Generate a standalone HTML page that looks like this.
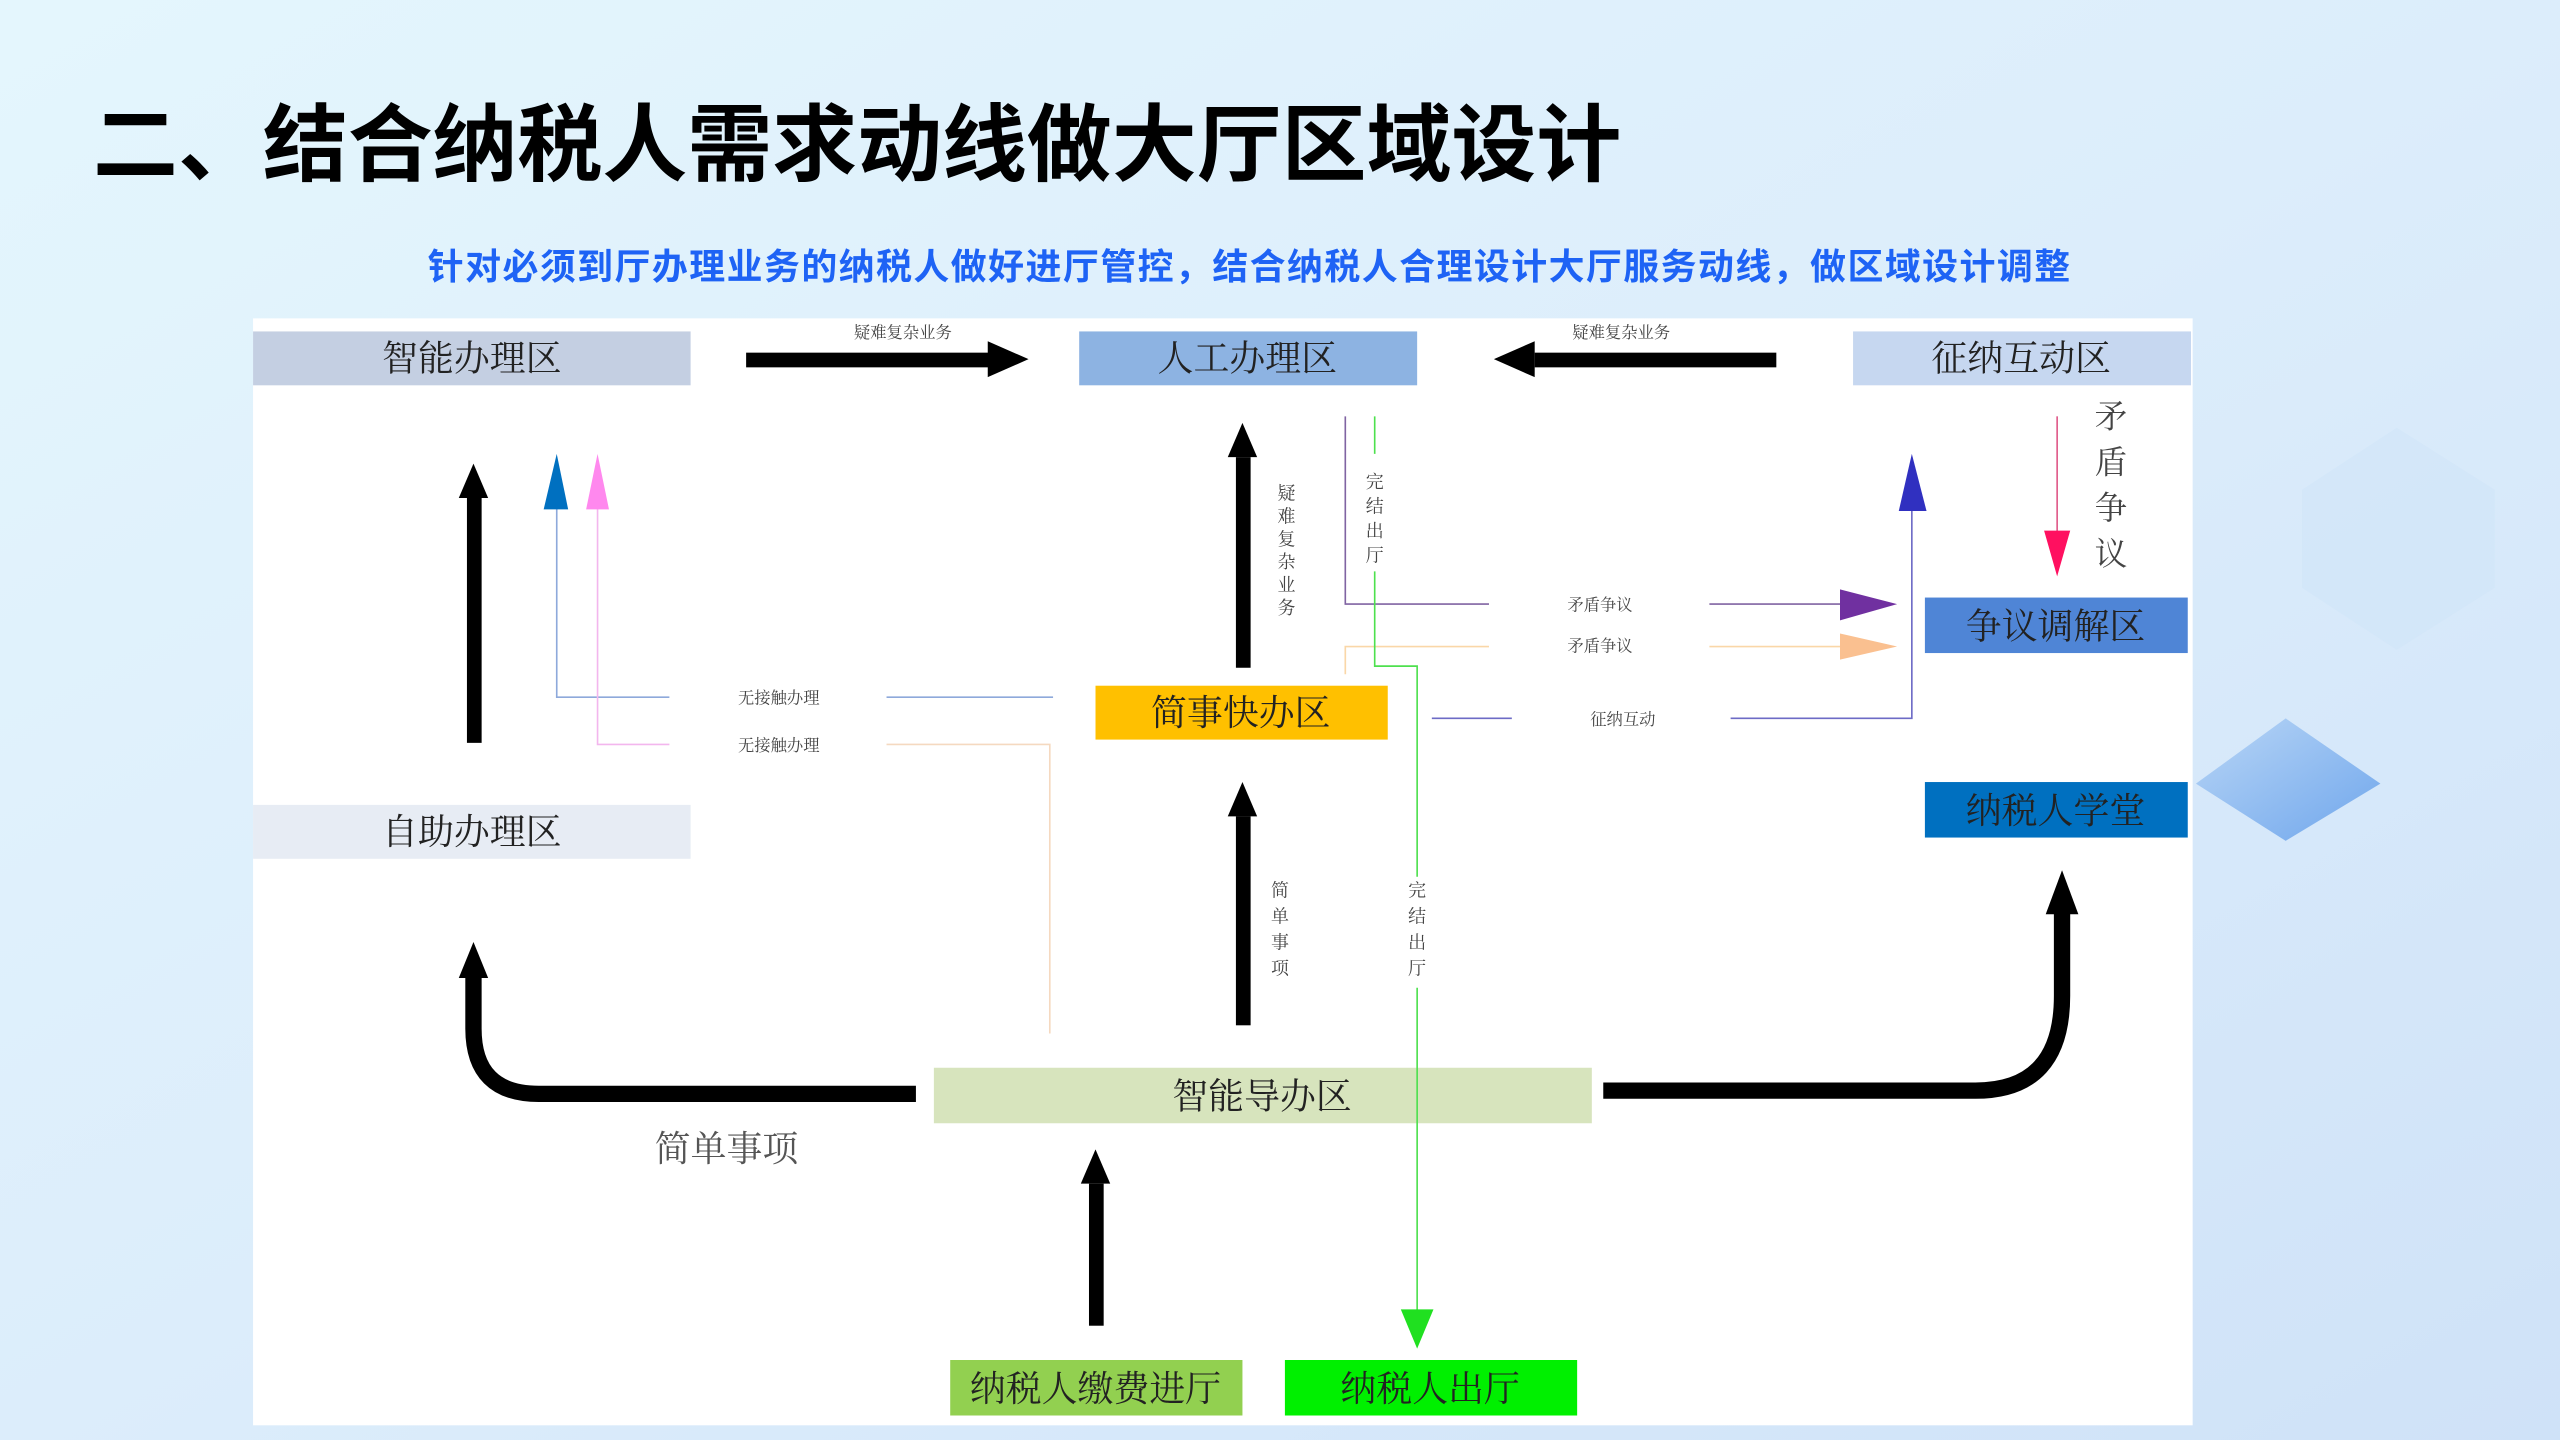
<!DOCTYPE html>
<html><head><meta charset="utf-8"><style>
html,body{margin:0;padding:0;width:2560px;height:1440px;overflow:hidden}
svg{display:block}
text{font-family:"Liberation Serif","Noto Serif CJK SC","Noto Sans CJK SC",serif}
.t{font-family:"Liberation Sans","Noto Sans CJK SC",sans-serif;font-weight:bold}
</style></head><body>
<svg width="2560" height="1440" viewBox="0 0 1568 882" xmlns="http://www.w3.org/2000/svg">
<defs>
<linearGradient id="bg" x1="0" y1="0" x2="1" y2="1">
<stop offset="0" stop-color="#e4f6fd"/><stop offset="0.5" stop-color="#dcedfb"/><stop offset="1" stop-color="#cfe2f8"/>
</linearGradient>
<linearGradient id="dg" x1="0" y1="0" x2="1" y2="1">
<stop offset="0" stop-color="#b9d6f6"/><stop offset="1" stop-color="#6fa6ec"/>
</linearGradient>
</defs>
<rect width="1568" height="882" fill="url(#bg)"/>
<polygon points="1410,300 1468,262 1528,300 1528,360 1468,398 1410,360" fill="#d2e6f8" opacity="0.7"/>
<polygon points="1345,480 1400,440 1458,480 1400,515" fill="url(#dg)"/>
<text x="57" y="107" class="t" font-size="52" fill="#000" textLength="936">二、结合纳税人需求动线做大厅区域设计</text>
<text x="262" y="171" class="t" font-size="22" fill="#1e63f5" textLength="1006">针对必须到厅办理业务的纳税人做好进厅管控，结合纳税人合理设计大厅服务动线，做区域设计调整</text>
<rect x="155" y="195" width="1188" height="678" fill="#fff"/>
<g font-size="22" text-anchor="middle" fill="#222">
<rect x="155" y="203" width="268" height="33" fill="#c4cfe2"/><text x="289" y="227">智能办理区</text>
<rect x="661" y="203" width="207" height="33" fill="#8db3e2"/><text x="764" y="227">人工办理区</text>
<rect x="1135" y="203" width="207" height="33" fill="#c6d7f0"/><text x="1238" y="227">征纳互动区</text>
<rect x="155" y="493" width="268" height="33" fill="#e7ecf4"/><text x="289" y="517">自助办理区</text>
<rect x="671" y="420" width="179" height="33" fill="#ffc000"/><text x="760" y="444">简事快办区</text>
<rect x="1179" y="366" width="161" height="34" fill="#4f85d6"/><text x="1259" y="391">争议调解区</text>
<rect x="1179" y="479" width="161" height="34" fill="#0070c0"/><text x="1259" y="504">纳税人学堂</text>
<rect x="572" y="654" width="403" height="34" fill="#d7e4bd"/><text x="773" y="679">智能导办区</text>
<rect x="582" y="833" width="179" height="34" fill="#92d050"/><text x="671" y="858">纳税人缴费进厅</text>
<rect x="787" y="833" width="179" height="34" fill="#00f000"/><text x="876" y="858">纳税人出厅</text>
<text x="445" y="711" fill="#555">简单事项</text>
</g>
<g font-size="20" fill="#444" text-anchor="middle">
<text x="1293" y="262">矛</text><text x="1293" y="290">盾</text><text x="1293" y="318">争</text><text x="1293" y="346">议</text>
</g>
<g fill="#000" stroke="none">
<rect x="457" y="216" width="150" height="9"/><polygon points="605,209 630,220 605,231"/>
<rect x="940" y="216" width="148" height="9"/><polygon points="940,209 915,220 940,231"/>
<rect x="286" y="305" width="9" height="150"/><polygon points="281,305 290,284 299,305"/>
<rect x="757" y="280" width="9" height="129"/><polygon points="752,280 761,259 770,280"/>
<rect x="757" y="500" width="9" height="128"/><polygon points="752,500 761,479 770,500"/>
<rect x="667" y="725" width="9" height="87"/><polygon points="662,725 671,704 680,725"/>
<polygon points="281,599 290,577 299,599"/>
<polygon points="1253,560 1263,533 1273,560"/>
</g>
<path d="M561,670 L330,670 Q290,670 290,630 L290,598" fill="none" stroke="#000" stroke-width="10"/>
<path d="M982,668 L1210,668 Q1263,668 1263,610 L1263,558" fill="none" stroke="#000" stroke-width="10"/>
<g fill="none" stroke-width="1">
<path d="M341,310 V427 H410 M543,427 H645" stroke="#8ea9db"/>
<path d="M366,310 V456 H410" stroke="#f3b6ee"/>
<path d="M543,456 H643 V633" stroke="#f5d9c0"/>
<path d="M824,255 V370 H912 M1047,370 H1130" stroke="#8064a2"/>
<path d="M824,413 V396 H912 M1047,396 H1130" stroke="#fad7a8"/>
<path d="M877,440 H926 M1060,440 H1171 V310" stroke="#6d6bc6"/>
<path d="M1260,255 V330" stroke="#e05a8a"/>
<path d="M842,255 V278 M842,350 V408 H868 V537 M868,605 V805" stroke="#4ee04e"/>
</g>
<g stroke="none">
<polygon points="333,312 341,278 348,312" fill="#0070c0"/>
<polygon points="359,312 366,278 373,312" fill="#ff88ee"/>
<polygon points="1163,313 1171,278 1180,313" fill="#3030c0"/>
<polygon points="1252,325 1260,353 1268,325" fill="#ff1060"/>
<polygon points="1127,361 1162,370 1127,380" fill="#7030a0"/>
<polygon points="1127,388 1162,396 1127,404" fill="#fac090"/>
<polygon points="858,802 868,826 878,802" fill="#20e020"/>
</g>
<g font-size="10" fill="#444" text-anchor="middle">
<text x="553" y="207">疑难复杂业务</text>
<text x="993" y="207">疑难复杂业务</text>
<text x="477" y="431">无接触办理</text>
<text x="477" y="460">无接触办理</text>
<text x="980" y="374">矛盾争议</text>
<text x="980" y="399">矛盾争议</text>
<text x="994" y="444">征纳互动</text>
</g>
<g font-size="11" fill="#444" text-anchor="middle">
<text x="788" y="306">疑</text><text x="788" y="320">难</text><text x="788" y="334">复</text><text x="788" y="348">杂</text><text x="788" y="362">业</text><text x="788" y="376">务</text>
<text x="842" y="299">完</text><text x="842" y="314">结</text><text x="842" y="329">出</text><text x="842" y="344">厅</text>
<text x="784" y="549">简</text><text x="784" y="565">单</text><text x="784" y="581">事</text><text x="784" y="597">项</text>
<text x="868" y="549">完</text><text x="868" y="565">结</text><text x="868" y="581">出</text><text x="868" y="597">厅</text>
</g>
</svg>
</body></html>
